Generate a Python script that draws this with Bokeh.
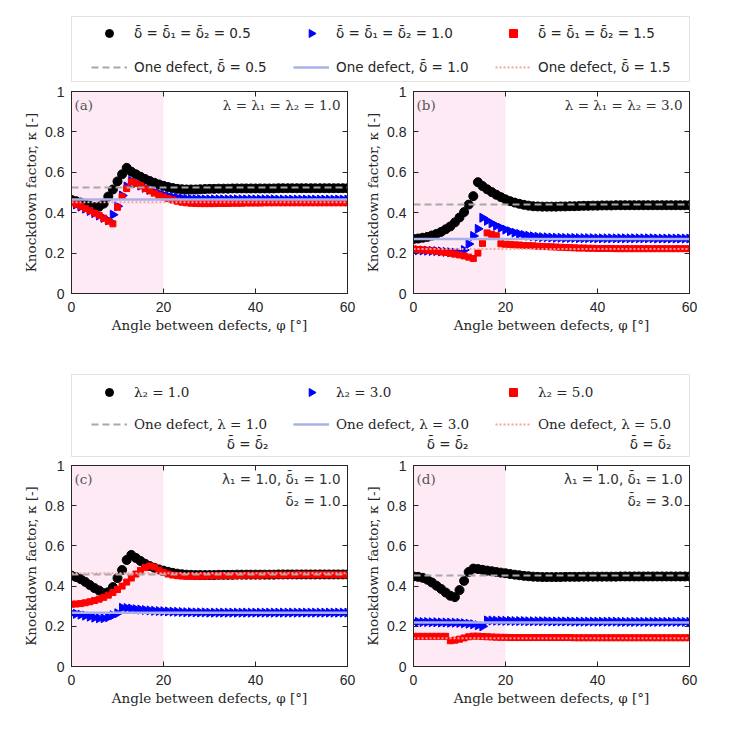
import numpy as np
from bokeh.plotting import figure
from bokeh.layouts import column, row
from bokeh.models import (Range1d, FixedTicker, LinearAxis, CustomJSTickFormatter,
                          Label, BoxAnnotation, Legend, LegendItem)
from bokeh.embed import file_html
from bokeh.resources import INLINE

# ---------------- data ----------------
phi = [0, 1, 2, 3, 4, 5, 6, 7, 8, 9,
       10, 11, 12, 13, 14, 15, 16, 17, 18, 19,
       20, 21, 22, 23, 24, 25, 26, 27, 28, 29,
       30, 31, 32, 33, 34, 35, 36, 37, 38, 39,
       40, 41, 42, 43, 44, 45, 46, 47, 48, 49,
       50, 51, 52, 53, 54, 55, 56, 57, 58, 59, 60]

x_ticks = [0, 20, 40, 60]
y_ticks = [0, 0.2, 0.4, 0.6, 0.8, 1]
shade_end = 20

# panel (a): lambda = 1.0
a_k05 = [0.463, 0.457, 0.450, 0.443, 0.435, 0.428, 0.430, 0.445, 0.480, 0.515,
         0.555, 0.590, 0.622, 0.603, 0.590, 0.578, 0.567, 0.557, 0.548, 0.540,
         0.533, 0.527, 0.522, 0.518, 0.516, 0.515, 0.515, 0.515, 0.516, 0.517,
         0.518, 0.518, 0.519, 0.519, 0.519, 0.520, 0.520, 0.520, 0.520, 0.520,
         0.520, 0.520, 0.520, 0.520, 0.520, 0.521, 0.521, 0.521, 0.521, 0.521,
         0.521, 0.521, 0.521, 0.521, 0.521, 0.521, 0.521, 0.521, 0.521, 0.521, 0.521]
a_k10 = [0.452, 0.441, 0.430, 0.420, 0.409, 0.398, 0.386, 0.374, 0.362, 0.390,
         0.432, 0.485, 0.530, 0.557, 0.546, 0.534, 0.523, 0.513, 0.504, 0.496,
         0.489, 0.483, 0.478, 0.474, 0.471, 0.469, 0.468, 0.467, 0.467, 0.466,
         0.466, 0.466, 0.466, 0.466, 0.466, 0.466, 0.466, 0.466, 0.466, 0.466,
         0.466, 0.466, 0.466, 0.466, 0.466, 0.465, 0.465, 0.465, 0.465, 0.465,
         0.465, 0.465, 0.465, 0.465, 0.465, 0.465, 0.465, 0.465, 0.465, 0.465, 0.465]
a_k15 = [0.452, 0.442, 0.432, 0.421, 0.410, 0.398, 0.387, 0.373, 0.358, 0.345,
         0.427, 0.480, 0.520, 0.553, 0.545, 0.533, 0.520, 0.508, 0.497, 0.487,
         0.478, 0.470, 0.463, 0.457, 0.452, 0.449, 0.447, 0.446, 0.445, 0.445,
         0.445, 0.445, 0.446, 0.446, 0.446, 0.447, 0.447, 0.447, 0.448, 0.448,
         0.448, 0.448, 0.449, 0.449, 0.449, 0.449, 0.449, 0.449, 0.449, 0.449,
         0.449, 0.449, 0.449, 0.449, 0.449, 0.449, 0.449, 0.449, 0.449, 0.449, 0.449]
a_one = [0.525, 0.465, 0.452]

# panel (b): lambda = 3.0
b_k05 = [0.270, 0.272, 0.276, 0.280, 0.287, 0.295, 0.305, 0.318, 0.332, 0.352,
         0.376, 0.403, 0.440, 0.482, 0.551, 0.532, 0.516, 0.502, 0.489, 0.477,
         0.466, 0.457, 0.450, 0.444, 0.439, 0.435, 0.432, 0.431, 0.430, 0.430,
         0.430, 0.430, 0.431, 0.431, 0.432, 0.432, 0.433, 0.434, 0.434, 0.435,
         0.435, 0.436, 0.436, 0.436, 0.437, 0.437, 0.437, 0.437, 0.437, 0.437,
         0.437, 0.437, 0.437, 0.437, 0.437, 0.437, 0.437, 0.437, 0.437, 0.437, 0.437]
b_k10 = [0.215, 0.214, 0.213, 0.212, 0.211, 0.210, 0.208, 0.206, 0.204, 0.202,
         0.200, 0.215, 0.245, 0.285, 0.320, 0.375, 0.360, 0.347, 0.335, 0.325,
         0.316, 0.308, 0.301, 0.295, 0.290, 0.286, 0.283, 0.281, 0.279, 0.278,
         0.277, 0.276, 0.276, 0.275, 0.275, 0.275, 0.274, 0.274, 0.274, 0.274,
         0.273, 0.273, 0.273, 0.273, 0.273, 0.273, 0.273, 0.273, 0.273, 0.273,
         0.273, 0.273, 0.273, 0.272, 0.272, 0.272, 0.272, 0.272, 0.272, 0.272, 0.272]
b_k15 = [0.220, 0.218, 0.216, 0.214, 0.212, 0.209, 0.206, 0.203, 0.199, 0.195,
         0.191, 0.186, 0.180, 0.173, 0.200, 0.248, 0.300, 0.293, 0.286, 0.246,
         0.244, 0.243, 0.241, 0.240, 0.238, 0.237, 0.236, 0.234, 0.233, 0.232,
         0.231, 0.230, 0.229, 0.228, 0.227, 0.226, 0.225, 0.225, 0.224, 0.224,
         0.223, 0.223, 0.223, 0.223, 0.222, 0.222, 0.222, 0.222, 0.222, 0.222,
         0.222, 0.222, 0.222, 0.222, 0.222, 0.222, 0.222, 0.222, 0.222, 0.222, 0.222]
b_one = [0.440, 0.270, 0.220]

# panel (c): lambda1 = 1.0, delta1 = 1.0, delta2 = 1.0
c_l1 = [0.452, 0.445, 0.435, 0.421, 0.405, 0.390, 0.378, 0.365, 0.370, 0.395,
        0.440, 0.480, 0.530, 0.555, 0.540, 0.525, 0.511, 0.500, 0.491, 0.483,
        0.477, 0.471, 0.466, 0.462, 0.459, 0.457, 0.456, 0.455, 0.455, 0.455,
        0.455, 0.455, 0.456, 0.456, 0.456, 0.456, 0.457, 0.457, 0.457, 0.457,
        0.457, 0.457, 0.457, 0.457, 0.457, 0.458, 0.458, 0.458, 0.458, 0.458,
        0.458, 0.458, 0.458, 0.458, 0.458, 0.458, 0.458, 0.458, 0.458, 0.458, 0.458]
c_l3 = [0.265, 0.262, 0.258, 0.253, 0.248, 0.243, 0.240, 0.240, 0.245, 0.255,
        0.265, 0.292, 0.291, 0.288, 0.285, 0.283, 0.281, 0.279, 0.277, 0.276,
        0.275, 0.274, 0.273, 0.272, 0.271, 0.270, 0.270, 0.269, 0.269, 0.269,
        0.268, 0.268, 0.268, 0.268, 0.268, 0.268, 0.268, 0.268, 0.268, 0.268,
        0.268, 0.268, 0.268, 0.268, 0.268, 0.268, 0.268, 0.268, 0.268, 0.268,
        0.268, 0.268, 0.268, 0.268, 0.268, 0.268, 0.268, 0.268, 0.268, 0.268, 0.268]
c_l5 = [0.310, 0.311, 0.313, 0.317, 0.322, 0.328, 0.335, 0.344, 0.355, 0.368,
        0.383, 0.400, 0.420, 0.440, 0.460, 0.478, 0.492, 0.500, 0.495, 0.480,
        0.468, 0.460, 0.455, 0.452, 0.450, 0.449, 0.449, 0.449, 0.450, 0.450,
        0.451, 0.451, 0.452, 0.452, 0.452, 0.453, 0.453, 0.453, 0.454, 0.454,
        0.454, 0.454, 0.455, 0.455, 0.455, 0.455, 0.455, 0.455, 0.455, 0.456,
        0.456, 0.456, 0.456, 0.456, 0.456, 0.456, 0.456, 0.456, 0.456, 0.456, 0.456]
c_one = [0.458, 0.267, 0.464]

# panel (d): lambda1 = 1.0, delta1 = 1.0, delta2 = 3.0
d_l1 = [0.448, 0.446, 0.441, 0.432, 0.418, 0.402, 0.386, 0.368, 0.352, 0.345,
        0.380, 0.426, 0.470, 0.487, 0.485, 0.481, 0.477, 0.474, 0.470, 0.467,
        0.464, 0.460, 0.457, 0.454, 0.451, 0.449, 0.447, 0.446, 0.445, 0.445,
        0.445, 0.445, 0.445, 0.446, 0.446, 0.446, 0.446, 0.447, 0.447, 0.447,
        0.447, 0.447, 0.447, 0.447, 0.447, 0.448, 0.448, 0.448, 0.448, 0.448,
        0.448, 0.448, 0.448, 0.448, 0.448, 0.448, 0.448, 0.448, 0.448, 0.448, 0.448]
d_l3 = [0.222, 0.222, 0.221, 0.221, 0.220, 0.220, 0.219, 0.219, 0.218, 0.218,
        0.217, 0.215, 0.213, 0.210, 0.205, 0.200, 0.229, 0.229, 0.228, 0.228,
        0.227, 0.227, 0.226, 0.226, 0.226, 0.225, 0.225, 0.225, 0.225, 0.225,
        0.224, 0.224, 0.224, 0.224, 0.224, 0.223, 0.223, 0.223, 0.223, 0.223,
        0.223, 0.223, 0.223, 0.223, 0.223, 0.222, 0.222, 0.222, 0.222, 0.222,
        0.222, 0.222, 0.222, 0.222, 0.222, 0.222, 0.222, 0.222, 0.222, 0.222, 0.222]
d_l5 = [0.150, 0.150, 0.150, 0.150, 0.150, 0.150, 0.150, 0.150, 0.128, 0.131,
        0.136, 0.142, 0.148, 0.151, 0.151, 0.149, 0.148, 0.147, 0.146, 0.145,
        0.145, 0.144, 0.144, 0.144, 0.144, 0.144, 0.144, 0.144, 0.144, 0.144,
        0.144, 0.144, 0.144, 0.144, 0.144, 0.143, 0.143, 0.143, 0.143, 0.143,
        0.143, 0.143, 0.143, 0.143, 0.143, 0.143, 0.143, 0.143, 0.143, 0.143,
        0.143, 0.143, 0.143, 0.143, 0.143, 0.143, 0.143, 0.143, 0.143, 0.143, 0.143]
d_one = [0.453, 0.219, 0.141]

legend1_markers = ["δ\u0304 = δ\u0304\u2081 = δ\u0304\u2082 = 0.5",
                   "δ\u0304 = δ\u0304\u2081 = δ\u0304\u2082 = 1.0",
                   "δ\u0304 = δ\u0304\u2081 = δ\u0304\u2082 = 1.5"]
legend1_lines = ["One defect, δ\u0304 = 0.5", "One defect, δ\u0304 = 1.0",
                 "One defect, δ\u0304 = 1.5"]
legend2_markers = ["λ₂ = 1.0", "λ₂ = 3.0", "λ₂ = 5.0"]
legend2_lines = ["One defect, λ = 1.0", "One defect, λ = 3.0", "One defect, λ = 5.0"]
legend2_second = "δ\u0304 = δ\u0304\u2082"

# ---------------- styles ----------------
AX = "#262626"
SERIF = "DejaVu Serif"          # general serif text
BAR_FONT = "DejaVu Sans"        # places the combining macron above δ correctly
TXT_SIZE = "13.5px"
SANS = "Liberation Sans"
SHADE = "#fdeaf4"
MK = [dict(marker="circle", size=9, color="#000000"),
      dict(marker="triangle", size=9, angle=-np.pi / 2, color="#0000ff"),
      dict(marker="square", size=6, color="#ff0000")]
LN = [dict(line_color="#a8a8a8", line_width=2, line_dash="7 4"),
      dict(line_color="#aab0ea", line_width=2.5),
      dict(line_color="#f4a4a4", line_width=2, line_dash="2 2")]

# legend layout (pixels)
LEG_X = 91
GLYPH_W = 36
GLYPH_H = 20
STANDOFF = 7
LABEL_W = 159


def font_for(texts):
    return BAR_FONT if any("\u0304" in t for t in texts) else SERIF


def draw_series(p, ys, ones, **kw):
    rs = []
    for y, m in zip(ys, MK):
        rs.append(p.scatter(phi, y, **m, **kw))
    ends = [phi[0], phi[-1]]
    for v, l in zip(ones, LN):
        rs.append(p.line(ends, [v, v], **l, **kw))
    return rs


def panel(w, h, bl, br, bt, bb, ys, ones, tag, notes):
    p = figure(width=w, height=h, x_range=Range1d(x_ticks[0], x_ticks[-1]),
               y_range=Range1d(y_ticks[0], y_ticks[-1]),
               output_backend="svg", toolbar_location=None,
               min_border_left=bl, min_border_right=br,
               min_border_top=bt, min_border_bottom=bb)
    p.grid.visible = False
    p.outline_line_color = AX
    p.outline_line_width = 1
    fmt = CustomJSTickFormatter(code="return tick.toString();")
    for ax, ticks in ((p.xaxis[0], x_ticks), (p.yaxis[0], y_ticks)):
        ax.ticker = FixedTicker(ticks=ticks)
        ax.formatter = fmt
        ax.major_tick_in = 5
        ax.major_tick_out = 0
        ax.minor_tick_line_color = None
        ax.axis_line_color = AX
        ax.major_tick_line_color = AX
        ax.major_label_text_font = SANS
        ax.major_label_text_font_size = "14px"
        ax.major_label_text_color = AX
        ax.axis_label_text_font = SERIF
        ax.axis_label_text_font_size = TXT_SIZE
        ax.axis_label_text_font_style = "normal"
        ax.axis_label_text_color = AX
    p.xaxis.axis_label = "Angle between defects, φ [°]"
    p.yaxis.axis_label = "Knockdown factor, κ [-]"
    p.xaxis.major_label_standoff = 8
    p.xaxis.axis_label_standoff = 2
    p.yaxis.major_label_standoff = 7
    p.yaxis.axis_label_standoff = 3
    for loc, ticks in (("above", x_ticks), ("right", y_ticks)):
        ax = LinearAxis(ticker=FixedTicker(ticks=ticks),
                        formatter=CustomJSTickFormatter(code="return '';"),
                        major_tick_in=5, major_tick_out=0, minor_tick_line_color=None,
                        axis_line_color=AX, major_tick_line_color=AX,
                        major_label_standoff=0, major_label_text_font_size="0px")
        p.add_layout(ax, loc)
    p.add_layout(BoxAnnotation(left=x_ticks[0], right=shade_end, fill_color=SHADE,
                               fill_alpha=1, line_color=None, level="underlay"))
    draw_series(p, ys, ones)
    p.add_layout(Label(x=x_ticks[0], y=y_ticks[-1], x_offset=3, y_offset=-13, text=tag,
                       text_font=SERIF, text_font_size=TXT_SIZE, text_color="#555555",
                       text_baseline="middle"))
    for i, t in enumerate(notes):
        p.add_layout(Label(x=x_ticks[-1], y=y_ticks[-1], x_offset=-7, y_offset=-13 - 22 * i,
                           text=t, text_font=font_for([t]), text_font_size=TXT_SIZE,
                           text_color="#333333", text_baseline="middle", text_align="right"))
    return p


def legend_fig(w, h, ys, ones, marker_labels, line_labels, box, rows_y, extra=None):
    f = figure(width=w, height=h, x_range=Range1d(0, w), y_range=Range1d(0, h),
               output_backend="svg", toolbar_location=None,
               x_axis_location=None, y_axis_location=None, min_border=0)
    f.outline_line_color = None
    f.grid.visible = False
    f.extra_y_ranges = {"hidden": Range1d(100, 101)}
    l, r, b, t = box
    f.add_layout(BoxAnnotation(left=l, right=r, bottom=b, top=t, fill_color="white",
                               fill_alpha=1, line_color="#a0a0a0", line_width=1,
                               level="underlay"))
    rs = draw_series(f, ys, ones, y_range_name="hidden")
    # Bokeh draws legend swatches of markers unrotated, so the triangle item gets
    # an empty swatch and the rotated marker is drawn into its slot instead
    rs[1].glyph.fill_alpha = 0
    rs[1].glyph.line_alpha = 0
    pitch = GLYPH_W + STANDOFF + LABEL_W
    slot_x = LEG_X + pitch + GLYPH_W / 2
    slot_y = rows_y[0] + GLYPH_H / 2
    f.scatter([slot_x], [slot_y], marker="triangle", size=8, angle=-np.pi / 2,
              color=MK[1]["color"])
    groups = [(rs[:3], marker_labels, rows_y[0]), (rs[3:], line_labels, rows_y[1])]
    for rends, labels, yb in groups:
        items = [LegendItem(label=lab, renderers=[rr]) for rr, lab in zip(rends, labels)]
        lg = Legend(items=items, location=(LEG_X, yb), orientation="horizontal",
                    glyph_width=GLYPH_W, glyph_height=GLYPH_H, label_width=LABEL_W,
                    label_height=20, label_standoff=STANDOFF, spacing=0, padding=0,
                    margin=0, border_line_alpha=0, background_fill_alpha=0,
                    label_text_font=font_for(labels), label_text_font_size=TXT_SIZE,
                    label_text_color=AX)
        f.add_layout(lg)
    if extra is not None:
        txt, xs, yy = extra
        for xx in xs:
            f.add_layout(Label(x=xx, y=yy, text=txt, text_font=font_for([txt]),
                               text_font_size=TXT_SIZE, text_color=AX,
                               text_align="right", text_baseline="middle"))
    return f


L1 = legend_fig(731, 84, [a_k05, a_k10, a_k15], a_one, legend1_markers, legend1_lines,
                box=(71, 689, 3, 68), rows_y=(41, 7))
L2 = legend_fig(731, 90, [c_l1, c_l3, c_l5], c_one, legend2_markers, legend2_lines,
                box=(71, 689, 2, 84), rows_y=(56, 24),
                extra=(legend2_second, [268, 468, 671], 15))

pa = panel(360, 284, 71, 13, 7, 75, [a_k05, a_k10, a_k15], a_one, "(a)",
           ["λ = λ₁ = λ₂ = 1.0"])
pb = panel(371, 284, 53, 42, 7, 75, [b_k05, b_k10, b_k15], b_one, "(b)",
           ["λ = λ₁ = λ₂ = 3.0"])
pc = panel(360, 264, 71, 13, 7, 56, [c_l1, c_l3, c_l5], c_one, "(c)",
           ["λ₁ = 1.0, δ\u0304\u2081 = 1.0", "δ\u0304\u2082 = 1.0"])
pd = panel(371, 264, 53, 42, 7, 56, [d_l1, d_l3, d_l5], d_one, "(d)",
           ["λ₁ = 1.0, δ\u0304\u2081 = 1.0", "δ\u0304\u2082 = 3.0"])

layout = column(L1, row(pa, pb), L2, row(pc, pd))
open("out.html", "w").write(file_html(layout, INLINE, title="Knockdown factor"))
